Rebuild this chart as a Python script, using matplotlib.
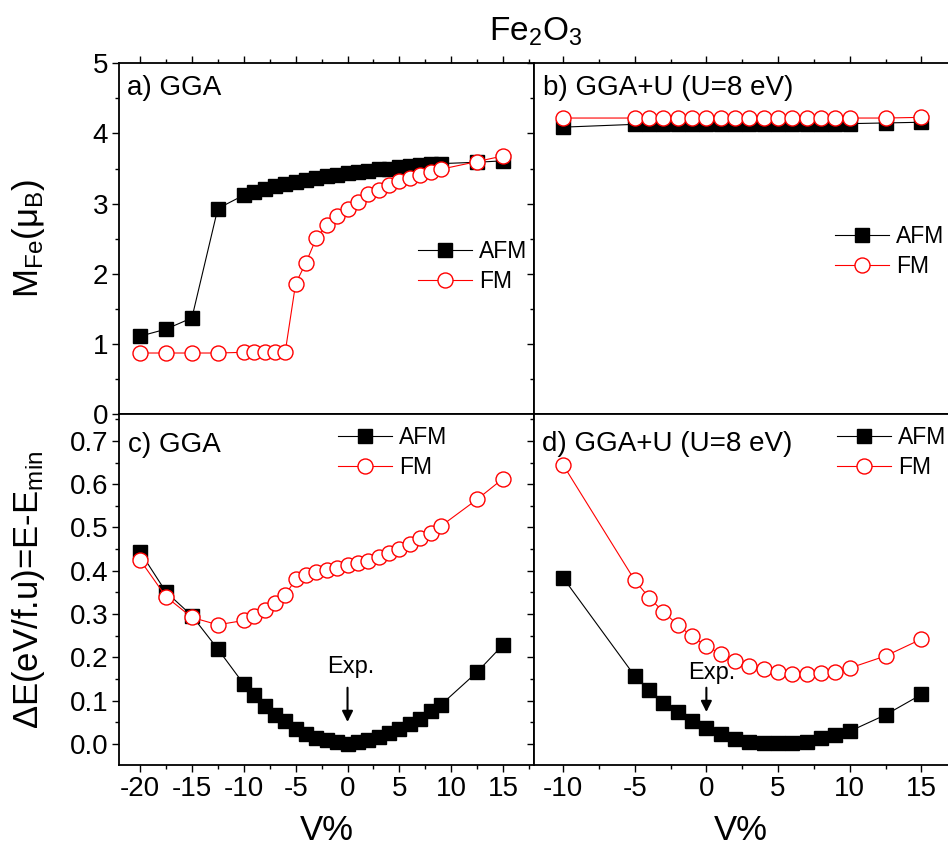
import matplotlib
matplotlib.use("Agg")
import matplotlib.pyplot as plt
from matplotlib.ticker import MultipleLocator

plt.rcParams['font.family'] = ['Liberation Sans', 'DejaVu Sans']
plt.rcParams['mathtext.fontset'] = 'custom'
plt.rcParams['mathtext.rm'] = 'Liberation Sans'
plt.rcParams['mathtext.it'] = 'Liberation Sans:italic'
plt.rcParams['axes.unicode_minus'] = False

# volume change (%) grids
v_gga = [-20, -17.5, -15, -12.5, -10, -9, -8, -7, -6, -5, -4, -3, -2, -1,
         0, 1, 2, 3, 4, 5, 6, 7, 8, 9, 12.5, 15]
v_ggau = [-10, -5, -4, -3, -2, -1, 0, 1, 2, 3, 4, 5, 6, 7, 8, 9, 10, 12.5, 15]

# a) GGA magnetic moment
m_gga_afm = [1.11, 1.21, 1.37, 2.93, 3.12, 3.17, 3.21, 3.25, 3.28, 3.31, 3.34, 3.37, 3.39,
             3.41, 3.43, 3.45, 3.47, 3.49, 3.50, 3.52, 3.53, 3.55, 3.56, 3.57, 3.59, 3.61]
m_gga_fm = [0.87, 0.87, 0.87, 0.87, 0.88, 0.88, 0.88, 0.89, 0.89, 1.86, 2.16, 2.51, 2.69,
            2.82, 2.93, 3.03, 3.13, 3.20, 3.26, 3.32, 3.37, 3.41, 3.45, 3.49, 3.60, 3.68]

# b) GGA+U magnetic moment
m_ggau_afm = [4.09, 4.13, 4.13, 4.13, 4.13, 4.13, 4.13, 4.13, 4.13, 4.13, 4.13, 4.13,
              4.13, 4.13, 4.13, 4.13, 4.14, 4.15, 4.16]
m_ggau_fm = [4.22, 4.22, 4.22, 4.22, 4.22, 4.22, 4.22, 4.22, 4.22, 4.22, 4.22, 4.22,
             4.22, 4.22, 4.22, 4.22, 4.22, 4.22, 4.23]

# c) GGA energy
e_gga_afm = [0.444, 0.351, 0.296, 0.219, 0.138, 0.113, 0.088, 0.067, 0.052, 0.034, 0.023,
             0.014, 0.008, 0.003, 0.0, 0.003, 0.008, 0.015, 0.025, 0.034, 0.045, 0.058,
             0.075, 0.090, 0.166, 0.229]
e_gga_fm = [0.425, 0.340, 0.292, 0.275, 0.285, 0.295, 0.309, 0.326, 0.344, 0.380, 0.390,
            0.398, 0.402, 0.407, 0.413, 0.417, 0.423, 0.432, 0.441, 0.451, 0.461, 0.475,
            0.488, 0.503, 0.565, 0.613]

# d) GGA+U energy
e_ggau_afm = [0.384, 0.157, 0.125, 0.095, 0.073, 0.053, 0.036, 0.022, 0.012, 0.005, 0.002,
              0.001, 0.001, 0.005, 0.013, 0.020, 0.029, 0.067, 0.114]
e_ggau_fm = [0.645, 0.378, 0.338, 0.305, 0.275, 0.248, 0.226, 0.208, 0.192, 0.180, 0.172,
             0.165, 0.162, 0.161, 0.163, 0.167, 0.175, 0.203, 0.242]

fig = plt.figure(figsize=(9.48, 8.5), dpi=100)
L, M, R = 0.1258, 0.5636, 1.0
B, H, T = 0.1, 0.5129, 0.9255
ax_a = fig.add_axes([L, H, M - L, T - H])
ax_b = fig.add_axes([M, H, R - M, T - H])
ax_c = fig.add_axes([L, B, M - L, H - B])
ax_d = fig.add_axes([M, B, R - M, H - B])


def draw(ax, x, afm, fm):
    ax.plot(x, afm, '-s', color='k', lw=0.8, ms=9.8, mfc='k', mec='k', label='AFM')
    ax.plot(x, fm, '-o', color='red', lw=0.8, ms=10.8, mfc='white', mec='red',
            mew=1.0, label='FM')


draw(ax_a, v_gga, m_gga_afm, m_gga_fm)
draw(ax_b, v_ggau, m_ggau_afm, m_ggau_fm)
draw(ax_c, v_gga, e_gga_afm, e_gga_fm)
draw(ax_d, v_ggau, e_ggau_afm, e_ggau_fm)

for ax in (ax_a, ax_c):
    ax.set_xlim(-22, 18)
for ax in (ax_b, ax_d):
    ax.set_xlim(-12, 16.85)
    ax.spines['right'].set_visible(False)
for ax in (ax_a, ax_b):
    ax.set_ylim(0, 5)
    ax.yaxis.set_major_locator(MultipleLocator(1))
    ax.yaxis.set_minor_locator(MultipleLocator(0.5))
for ax in (ax_c, ax_d):
    ax.set_ylim(-0.049, 0.762)
    ax.yaxis.set_major_locator(MultipleLocator(0.1))
    ax.yaxis.set_minor_locator(MultipleLocator(0.05))
    ax.yaxis.set_major_formatter('{x:.1f}')

for ax in (ax_a, ax_b, ax_c, ax_d):
    ax.xaxis.set_major_locator(MultipleLocator(5))
    ax.xaxis.set_minor_locator(MultipleLocator(2.5))
    for s in ax.spines.values():
        s.set_linewidth(1.3)
    top = ax in (ax_a, ax_b)
    ax.tick_params(which='both', direction='out', width=1.0, labelsize=20,
                   top=top, right=False, left=True, bottom=True,
                   labelleft=ax in (ax_a, ax_c), labelbottom=ax in (ax_c, ax_d))
    ax.tick_params(which='major', length=5, pad=3)
    ax.tick_params(which='minor', length=3)

# panel labels
ax_a.text(0.018, 0.91, 'a) GGA', transform=ax_a.transAxes, fontsize=20, va='baseline')
ax_b.text(0.02, 0.91, 'b) GGA+U (U=8 eV)', transform=ax_b.transAxes, fontsize=20, va='baseline')
ax_c.text(0.02, 0.893, 'c) GGA', transform=ax_c.transAxes, fontsize=20, va='baseline')
ax_d.text(0.018, 0.896, 'd) GGA+U (U=8 eV)', transform=ax_d.transAxes, fontsize=20, va='baseline')

# legends
leg_kw = dict(frameon=False, fontsize=16.5, handlelength=2.35, handletextpad=0.3,
              labelspacing=0.3, borderpad=0, borderaxespad=0, loc='upper left')
ax_a.legend(bbox_to_anchor=(0.72, 0.497), **leg_kw)
ax_b.legend(bbox_to_anchor=(0.727, 0.54), **leg_kw)
ax_c.legend(bbox_to_anchor=(0.527, 0.965), **leg_kw)
ax_d.legend(bbox_to_anchor=(0.7315, 0.965), **leg_kw)

# experimental volume markers
arrow = dict(arrowstyle='-|>', color='k', lw=1.5, mutation_scale=16)
ax_c.annotate('', xy=(0, 0.044), xytext=(0, 0.136), arrowprops=arrow)
ax_c.text(0.3, 0.178, 'Exp.', fontsize=17, ha='center', va='center')
ax_d.annotate('', xy=(0, 0.067), xytext=(0, 0.136), arrowprops=arrow)
ax_d.text(0.35, 0.163, 'Exp.', fontsize=17, ha='center', va='center')

# axis labels
ax_a.set_ylabel(r'M$_{\mathrm{Fe}}$(μ$_{\mathrm{B}}$)', fontsize=25)
ax_a.yaxis.set_label_coords(-0.175, 0.5)
ax_c.set_ylabel(r'ΔE(eV/f.u)=E-E$_{\mathrm{min}}$', fontsize=25)
ax_c.yaxis.set_label_coords(-0.175, 0.5)
for ax in (ax_c, ax_d):
    ax.set_xlabel('V%', fontsize=25)
    ax.xaxis.set_label_coords(0.5, -0.14)

fig.text(0.565, 0.963, r'Fe$_{\mathrm{2}}$O$_{\mathrm{3}}$', fontsize=24, ha='center', va='center')

fig.savefig('out.png', dpi=100)
